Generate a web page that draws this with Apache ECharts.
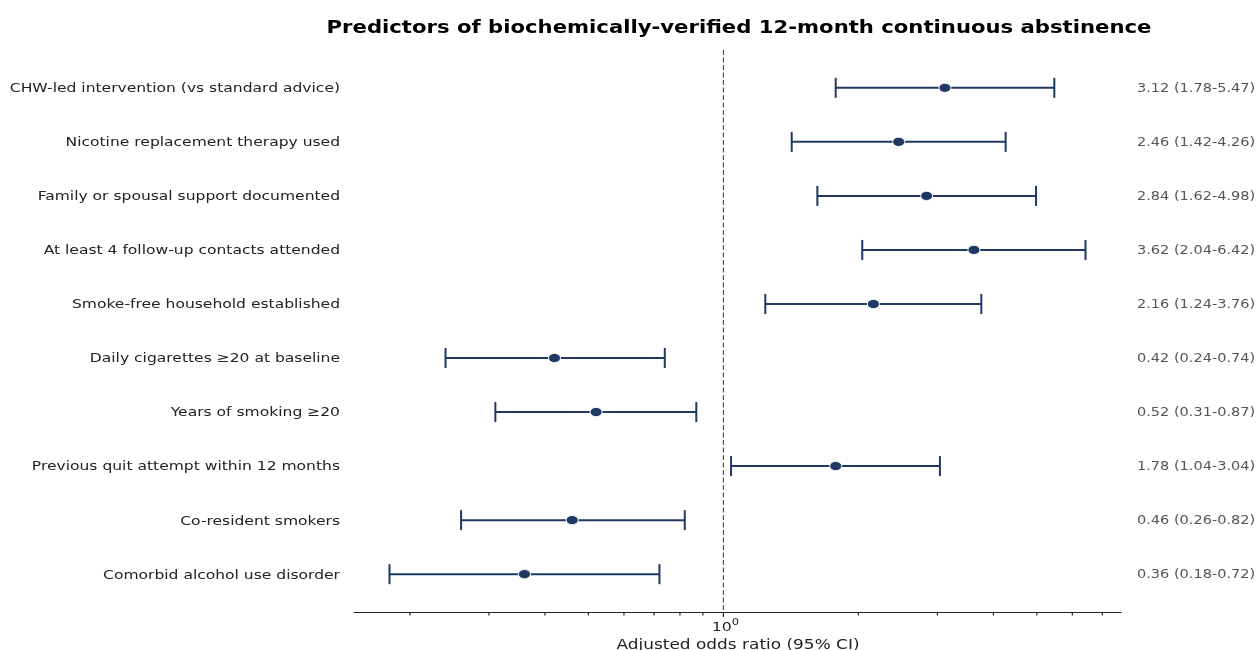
<!DOCTYPE html>
<html>
<head>
<meta charset="utf-8">
<script src="https://cdn.jsdelivr.net/npm/echarts@6/dist/echarts.min.js"></script>
<style>html,body{margin:0;padding:0;background:#fff;}#c{width:1259px;height:650px;}</style>
</head>
<body>
<div id="c"></div>
<script>
var categories = [
  "CHW-led intervention (vs standard advice)",
  "Nicotine replacement therapy used",
  "Family or spousal support documented",
  "At least 4 follow-up contacts attended",
  "Smoke-free household established",
  "Daily cigarettes \u226520 at baseline",
  "Years of smoking \u226520",
  "Previous quit attempt within 12 months",
  "Co-resident smokers",
  "Comorbid alcohol use disorder"
];
var oddsRatio = [3.12, 2.46, 2.84, 3.62, 2.16, 0.42, 0.52, 1.78, 0.46, 0.36];
var ciLow =     [1.78, 1.42, 1.62, 2.04, 1.24, 0.24, 0.31, 1.04, 0.26, 0.18];
var ciHigh =    [5.47, 4.26, 4.98, 6.42, 3.76, 0.74, 0.87, 3.04, 0.82, 0.72];
var minorTickValues = [0.2, 0.3, 0.4, 0.5, 0.6, 0.7, 0.8, 0.9, 2, 3, 4, 5, 6, 7];
var majorTickValues = [1];
var majorTickBase = ['10'];
var majorTickExp = ['0'];
var xMin = 0.15, xMax = 7.704;

var navy = '#1f3864';
var SX = 1.21; // horizontal stretch of the reference text
var rowData = categories.map(function (c, i) { return [i, oddsRatio[i], ciLow[i], ciHigh[i]]; });

var chart = echarts.init(document.getElementById('c'), null, {renderer: 'canvas'});
chart.setOption({
  animation: false,
  grid: {left: 354, right: 138, top: 50, bottom: 38, containLabel: false, outerBoundsMode: 'none'},
  graphic: [
    {type: 'text', x: 739, y: 28, scaleX: SX, silent: true, style: {
      text: 'Predictors of biochemically-verified 12-month continuous abstinence',
      align: 'center', verticalAlign: 'middle',
      fontFamily: 'DejaVu Sans', fontWeight: 'bold', fontSize: 17.5, fill: '#000'}},
    {type: 'text', x: 738, y: 645, scaleX: SX, silent: true, style: {
      text: 'Adjusted odds ratio (95% CI)',
      align: 'center', verticalAlign: 'middle',
      fontFamily: 'DejaVu Sans', fontSize: 14, fill: '#222'}}
  ],
  xAxis: {
    type: 'log', logBase: 10, min: xMin, max: xMax,
    axisLine: {show: true, onZero: false, lineStyle: {color: '#222', width: 1.2}},
    axisTick: {show: false},
    splitLine: {show: false},
    axisLabel: {show: false}
  },
  yAxis: {type: 'value', min: -0.7, max: 9.7, inverse: true, show: false},
  series: [
    {
      type: 'custom', clip: false, z: 1, silent: true,
      data: minorTickValues.map(function (v) { return [v, -1]; }).concat(majorTickValues.map(function (v, k) { return [v, k]; })),
      renderItem: function (params, api) {
        var p = api.coord([api.value(0), 9.7]);
        var k = api.value(1);
        var major = k >= 0;
        var children = [{type: 'line', shape: {x1: p[0], y1: p[1], x2: p[0], y2: p[1] + (major ? 5 : 3.5)}, style: {stroke: '#222', lineWidth: 1.2}}];
        if (major) {
          children.push({type: 'text', x: p[0] + 2, y: p[1] + 14, scaleX: SX, style: {
            text: '{a|' + majorTickBase[k] + '}{b|' + majorTickExp[k] + '}', align: 'center', verticalAlign: 'middle',
            rich: {
              a: {fontFamily: 'DejaVu Sans', fontSize: 13, fill: '#222', verticalAlign: 'bottom', lineHeight: 16},
              b: {fontFamily: 'DejaVu Sans', fontSize: 9.5, fill: '#222', verticalAlign: 'top', lineHeight: 10}
            }}});
        }
        return {type: 'group', children: children};
      }
    },
    {
      type: 'custom', clip: false, z: 2, silent: true,
      data: [[1]],
      renderItem: function (params, api) {
        var a = api.coord([api.value(0), -0.7]);
        var b = api.coord([api.value(0), 9.7]);
        return {type: 'line', shape: {x1: a[0], y1: a[1], x2: b[0], y2: b[1]}, style: {stroke: '#555', lineWidth: 1.2, lineDash: [5, 2.5]}};
      }
    },
    {
      type: 'custom', clip: false, z: 5, silent: true,
      data: rowData,
      encode: {x: [1, 2, 3], y: 0},
      renderItem: function (params, api) {
        var i = api.value(0);
        var pt = api.coord([api.value(1), i]);
        var lo = api.coord([api.value(2), i]);
        var hi = api.coord([api.value(3), i]);
        var cap = 10;
        var st = {stroke: navy, lineWidth: 2};
        var left = api.coord([xMin, i]);
        var right = api.coord([xMax, i]);
        return {type: 'group', children: [
          {type: 'line', shape: {x1: lo[0], y1: lo[1], x2: hi[0], y2: hi[1]}, style: st},
          {type: 'line', shape: {x1: lo[0], y1: lo[1] - cap, x2: lo[0], y2: lo[1] + cap}, style: st},
          {type: 'line', shape: {x1: hi[0], y1: hi[1] - cap, x2: hi[0], y2: hi[1] + cap}, style: st},
          {type: 'ellipse', shape: {cx: pt[0], cy: pt[1], rx: 6, ry: 4.6}, style: {fill: navy, stroke: '#fff', lineWidth: 1}},
          {type: 'text', x: left[0] - 14, y: left[1] + 1, scaleX: 1.195, style: {
            text: categories[i], align: 'right', verticalAlign: 'middle',
            fontFamily: 'DejaVu Sans', fontSize: 13, fill: '#222'}},
          {type: 'text', x: right[0] + 16, y: right[1] + 1, scaleX: SX, style: {
            text: oddsRatio[i].toFixed(2) + ' (' + ciLow[i].toFixed(2) + '-' + ciHigh[i].toFixed(2) + ')',
            align: 'left', verticalAlign: 'middle',
            fontFamily: 'DejaVu Sans', fontSize: 12, fill: '#555'}}
        ]};
      }
    }
  ]
});
</script>
</body>
</html>
